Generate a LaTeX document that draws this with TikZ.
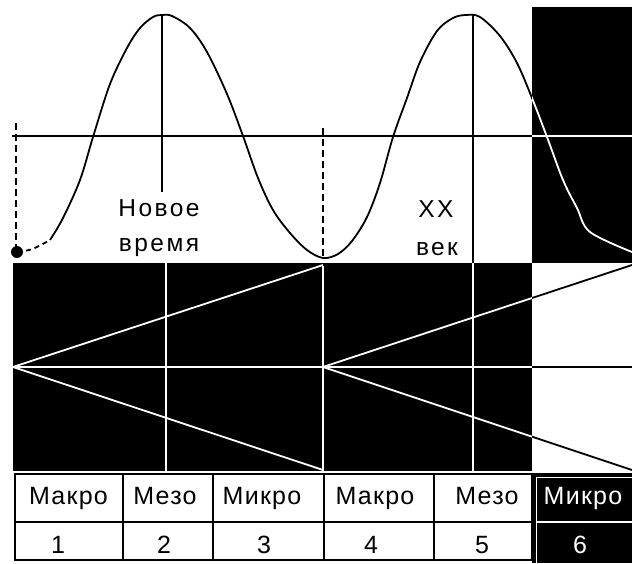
\documentclass[tikz,border=0pt]{standalone}
\usepackage{fontspec}
\setmainfont{Liberation Sans}
\newfontfamily\lblfont[LetterSpace=10]{Liberation Sans}
\newfontfamily\tblfont[LetterSpace=5]{Liberation Sans}
\begin{document}
\begin{tikzpicture}[x=1pt,y=-1pt,
  lbl/.style={font=\lblfont\fontsize{24.5}{26}\selectfont, inner sep=0pt, anchor=base},
  tbl/.style={font=\tblfont\fontsize{25}{27}\selectfont, inner sep=0pt, anchor=base},
  wline/.style={draw=white, line width=1.8pt},
  bline/.style={draw=black, line width=1.8pt},
  dashline/.style={draw=black, line width=1.8pt, dash pattern=on 7pt off 4pt}]
\useasboundingbox (0,0) rectangle (632,563);
\fill[white] (0,0) rectangle (632,563);

% black areas
\fill[black] (13,263) rectangle (532,471);
\fill[black] (532,7) rectangle (632,263);

% wave
\begin{scope}
\clip (0,0) rectangle (532,264);
\draw[bline] plot[smooth,tension=0.55] coordinates {(50,240) (63,218) (80,180) (93,137) (110,84) (127,48) (140,28) (153,17) (162,15) (172,16) (190,28) (207,52) (227,94) (243,136) (258,178) (273,210) (290,233) (307,250) (323,258) (338,254) (352,241) (367,217) (380,183) (393,137) (407,98) (420,62) (437,31) (453,18) (466,15) (480,17) (500,36) (517,63) (532,98) (547,137) (563,180) (577,208) (590,232) (632,252)};
\end{scope}
\begin{scope}
\clip (532,0) rectangle (632,263);
\draw[wline] plot[smooth,tension=0.55] coordinates {(50,240) (63,218) (80,180) (93,137) (110,84) (127,48) (140,28) (153,17) (162,15) (172,16) (190,28) (207,52) (227,94) (243,136) (258,178) (273,210) (290,233) (307,250) (323,258) (338,254) (352,241) (367,217) (380,183) (393,137) (407,98) (420,62) (437,31) (453,18) (466,15) (480,17) (500,36) (517,63) (532,98) (547,137) (563,180) (577,208) (590,232) (632,252)};
\end{scope}

% start point
\coordinate (dot) at (17,252);
\coordinate (c0) at (50,240);
\draw[black, line width=1.8pt, dash pattern=on 5pt off 4pt] (dot) .. controls (32,250) .. (c0);
\fill[black] (dot) circle[radius=6pt];

% axes
\coordinate (hl) at (12,136); \coordinate (hm) at (532,136); \coordinate (hr) at (632,136);
\draw[bline] (hl) -- (hm);
\draw[wline] (hm) -- (hr);
\coordinate (p1t) at (162,15); \coordinate (p1b) at (162,192);
\draw[bline] (p1t) -- (p1b);
\coordinate (p2t) at (473,15); \coordinate (p2b) at (473,263);
\draw[bline] (p2t) -- (p2b);
\coordinate (d1t) at (16,123); \coordinate (d1b) at (16,250);
\draw[dashline] (d1t) -- (d1b);
\coordinate (d2t) at (323,128); \coordinate (d2b) at (323,258);
\draw[dashline] (d2t) -- (d2b);

% labels
\node[lbl] (novoe) at (159,216) {Новое};
\node[lbl] (vremya) at (159,251) {время};
\node[lbl] (xx) at (436,217) {XX};
\node[lbl] (vek) at (437,255) {век};

% band lines
\coordinate (o1) at (13,367); \coordinate (o2) at (323,367);
\coordinate (t1) at (323,265); \coordinate (b1) at (323,470);
\coordinate (t2) at (632,265); \coordinate (b2) at (632,470);
\draw[wline] (166,260) -- (166,471);
\draw[wline] (323,266) -- (323,471);
\draw[wline] (473,263) -- (473,471);
\draw[wline] (o1) -- (532,367);
\draw[bline] (532,367) -- (632,367);
\draw[wline] (o1) -- (t1);
\draw[wline] (o1) -- (b1);
\begin{scope}
\clip (323,263) rectangle (532,471);
\draw[wline] (o2) -- (t2);
\draw[wline] (o2) -- (b2);
\end{scope}
\begin{scope}
\clip (532,263) rectangle (632,471);
\draw[bline] (o2) -- (t2);
\draw[bline] (o2) -- (b2);
\end{scope}

% table
\fill[black] (532,473) rectangle (632,563);
\draw[white, line width=1pt] (536,477) -- (632,477);
\draw[white, line width=1pt] (536,477) -- (536,563);
\draw[white, line width=1.5pt] (536,522) -- (632,522);
\foreach \yy in {474,522,560} \draw[bline] (14,\yy) -- (533,\yy);
\foreach \xx in {15,123,213,324,434,532} \draw[bline] (\xx,474) -- (\xx,560);

\node[tbl] (m1) at (68.5,504) {Макро};
\node[tbl] (m2) at (165,504) {Мезо};
\node[tbl] (m3) at (262,504) {Микро};
\node[tbl] (m4) at (375,504) {Макро};
\node[tbl] (m5) at (487,504) {Мезо};
\node[tbl, text=white] (m6) at (583,504) {Микро};
\node[tbl] (n1) at (58,553) {1};
\node[tbl] (n2) at (164,553) {2};
\node[tbl] (n3) at (264,553) {3};
\node[tbl] (n4) at (371,553) {4};
\node[tbl] (n5) at (482,553) {5};
\node[tbl, text=white] (n6) at (580,553) {6};
\end{tikzpicture}
\end{document}
